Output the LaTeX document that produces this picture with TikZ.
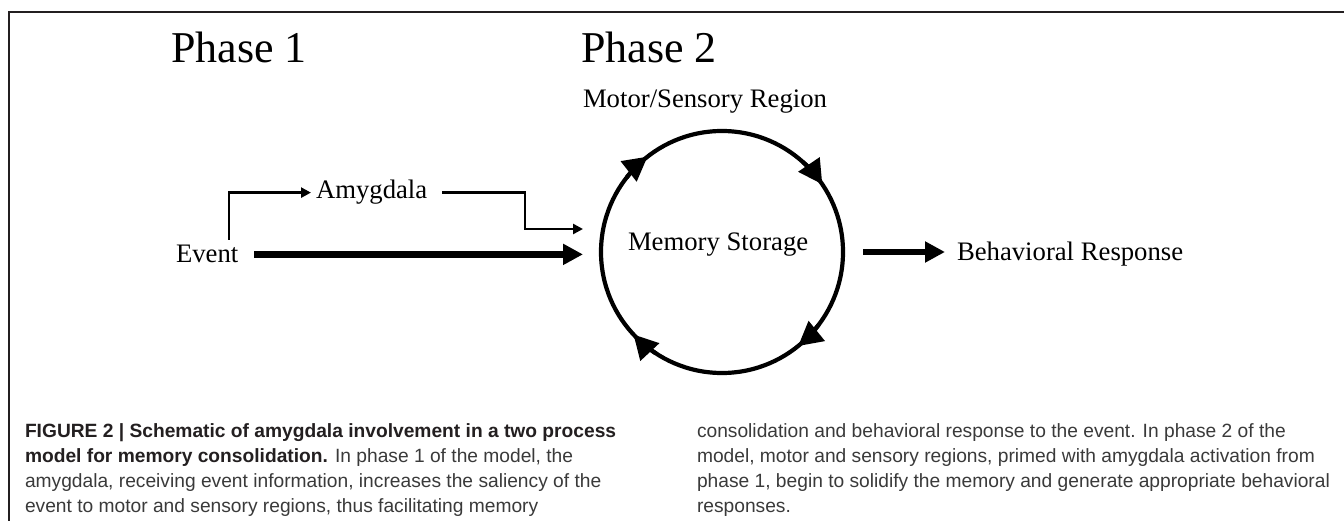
\documentclass[tikz,border=0pt]{standalone}
\usepackage{fontspec}
\setmainfont{Liberation Serif}
\newfontfamily\capfont{Liberation Sans}
\usetikzlibrary{arrows.meta}
\definecolor{framegray}{HTML}{231F20}
\definecolor{captext}{HTML}{3A3A3A}
\begin{document}
\begin{tikzpicture}[x=1pt,y=1pt,
  phase/.style={inner sep=0pt, outer sep=0pt, anchor=base west, font=\fontsize{44}{50}\selectfont},
  lbl/.style={inner sep=0pt, outer sep=0pt, anchor=base west, font=\fontsize{26.7}{30}\selectfont},
  ring/.style={circle, draw, line width=4.2pt, minimum size=242pt, inner sep=0pt, outer sep=0pt},
  bigarr/.style={line width=6.5pt, -{Triangle[length=20pt,width=20pt]}},
  smallarr/.style={line width=2.8pt, line join=miter, -{Triangle[length=10pt,width=10pt]}},
  cycarr/.style={line width=4.2pt, -{Triangle[length=24pt,width=25pt]}},
  captxt/.style={inner sep=0pt, outer sep=0pt, anchor=base west, text=captext, font=\capfont\fontsize{19.2}{25}\selectfont}
]
\useasboundingbox (0,0) rectangle (1344,-521);
\fill[white] (0,0) rectangle (1344,-521);
\draw[line width=2.6pt, framegray, line join=miter] (9,-530) -- (9,-12) -- (1350,-12);

\node[phase] (ph1) at (171,-63) {Phase 1};
\node[phase] (ph2) at (581,-63) {Phase 2};
\node[lbl] (msr) at (583,-108) {Motor/Sensory Region};
\node[ring] (ring) at (722,-252) {};
\node[lbl] (mem) at (628,-251) {Memory Storage};
\node[lbl] (event) at (176,-263) {Event};
\node[lbl] (amy) at (316,-199) {Amygdala};
\node[lbl] (resp) at (957,-261) {Behavioral Response};

\foreach \a in {128,34,-51,-137}
  \draw[cycarr] ([shift={(\a+14:121pt)}]ring.center) arc[start angle=\a+14, end angle=\a, radius=121pt];

\draw[bigarr, shorten <=16pt, shorten >=18pt] (event.east) -- (event.east -| ring.west);
\draw[bigarr, shorten <=20pt, shorten >=12pt] (ring.east) -- (ring.east -| resp.west);

\coordinate (evtop) at (229,-240);
\draw[smallarr, shorten >=5pt] (evtop) |- (amy.west);
\coordinate (amyin) at ([shift={(-18pt,23pt)}]ring.west);
\coordinate (bend) at (525,-229);
\draw[smallarr, shorten <=15pt] (amy.east) -| (bend) -- (amyin);

\node[captxt] (cl1) at (25,-437) {\bfseries\color{framegray}FIGURE 2 | Schematic of amygdala involvement in a two process};
\node[captxt] (cl2) at (25,-462) {{\bfseries\color{framegray}model for memory consolidation.} In phase 1 of the model, the};
\node[captxt] (cl3) at (25,-487) {amygdala, receiving event information, increases the saliency of the};
\node[captxt] (cl4) at (25,-512) {event to motor and sensory regions, thus facilitating memory};
\node[captxt] (cr1) at (697,-437) {consolidation and behavioral response to the event. In phase 2 of the};
\node[captxt] (cr2) at (697,-462) {model, motor and sensory regions, primed with amygdala activation from};
\node[captxt] (cr3) at (697,-487) {phase 1, begin to solidify the memory and generate appropriate behavioral};
\node[captxt] (cr4) at (697,-512) {responses.};
\end{tikzpicture}
\end{document}
